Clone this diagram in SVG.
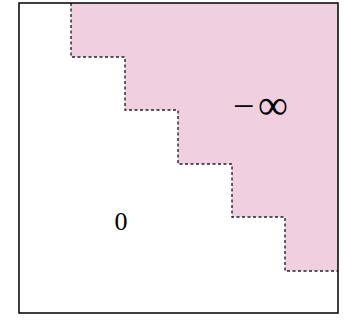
<svg xmlns="http://www.w3.org/2000/svg" width="349" height="325" viewBox="0 0 349 325">
<style>
.region{fill:#f0d0e0;stroke:none}
.stair{fill:none;stroke:#222;stroke-width:1.4;stroke-dasharray:3,2.5}
.frame{fill:none;stroke:#000;stroke-width:1.5}
.lbl{font-family:"Liberation Serif",serif;font-size:26px;fill:#000}
</style>
<rect x="0" y="0" width="349" height="325" fill="#fff"/>
<g id="neg-region">
<polygon class="region" points="71,3 338,3 338,271 285,271 285,217 232,217 232,164 178,164 178,110 125,110 125,57 71,57"/>
</g>
<g id="connectors">
<polyline class="stair" points="71,3 71,57 125,57 125,110 178,110 178,164 232,164 232,217 285,217 285,271 338,271"/>
</g>
<g id="frame">
<rect class="frame" x="19" y="3" width="319" height="310"/>
</g>
<g id="labels">
<text class="lbl" x="233" y="119" style="font-size:38px">−</text>
<text class="lbl" x="258" y="119" style="font-size:42px">∞</text>
<text class="lbl" x="121" y="230" text-anchor="middle">0</text>
</g>
</svg>
